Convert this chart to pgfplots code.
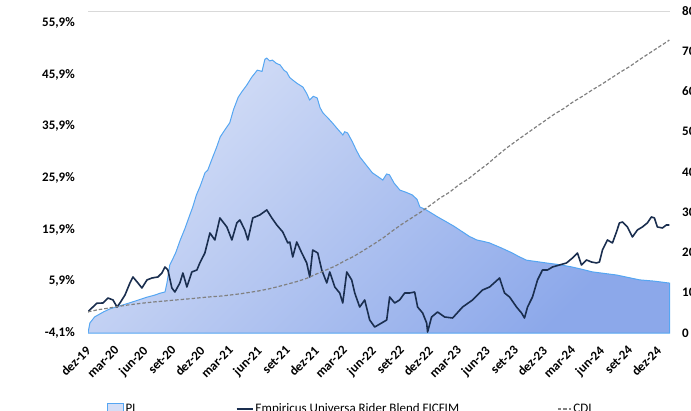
\documentclass[border=0pt]{standalone}
\usepackage{pgfplots}
\pgfplotsset{compat=1.18}
\usepackage{fontspec}
\setmainfont{Carlito}

\definecolor{plline}{HTML}{55A6F2}
\definecolor{pllight}{HTML}{D4DEF6}
\definecolor{pldark}{HTML}{8CA8EA}
\definecolor{fundnavy}{HTML}{1A2E4F}
\definecolor{cdigray}{HTML}{808080}
\definecolor{topgrid}{HTML}{D9D9D9}

\pgfplotsset{
  myaxis/.style={
    at={(88pt,77pt)}, anchor=south west,
    scale only axis, width=582pt, height=322pt,
    xmin=0, xmax=61.2,
    axis line style={draw=none},
    major tick length=0pt,
    tick label style={font=\bfseries\fontsize{13}{15}\selectfont, text=black},
  },
  shortline/.style={legend image code/.code={\draw[##1] (0pt,0pt) -- (16pt,0pt);}},
  shortdash/.style={legend image code/.code={\draw[##1] (0pt,0pt) -- (13pt,0pt);}},
  plbox/.style={legend image code/.code={\draw[draw=plline, fill=pllight] (0pt,-6pt) rectangle (16pt,6pt);}},
}

\begin{document}
\begin{tikzpicture}
\useasboundingbox (0,0) rectangle (691pt,410pt);
\clip (0,0) rectangle (691pt,410pt);

% PL area, right axis
\begin{axis}[myaxis,
  ymin=0, ymax=80,
  xtick=\empty,
  ytick={0,10,...,80},
  yticklabels={0,10,20,30,40,50,60,70,80},
  yticklabel pos=right,
  yticklabel style={anchor=west, inner sep=0pt, xshift=12pt},
]
\draw[topgrid, line width=0.8pt] (rel axis cs:0,1) -- (rel axis cs:1,1);
\addplot[draw=plline, line width=1pt, top color=pllight, bottom color=pldark, shading angle=45] coordinates {
(0,0) (0.2,2.5) (0.7,4.0) (1.6,5.2) (2.2,5.9) (3.0,6.5) (3.7,7.0) (4.4,7.5) (5.3,8.2) (6.2,8.9) (7.0,9.4) (7.6,9.9) (8.1,10.2)
(8.3,12.4) (8.6,16.9) (9.2,19.8) (9.7,23.1) (10.2,26.0) (10.7,29.3) (11.0,31.2) (11.4,34.3) (11.8,36.5) (12.3,39.8) (12.6,40.5)
(13.0,43.0) (13.5,46.0) (13.9,48.7) (14.4,50.5) (14.9,52.2) (15.3,55.5) (15.8,58.6) (16.2,60.0) (16.7,61.6) (17.2,63.5)
(17.8,65.3) (18.3,65.0) (18.6,68.0) (18.8,68.3) (19.1,67.6) (19.4,67.8) (19.8,67.0) (20.2,66.6) (20.6,65.3) (20.9,64.8)
(21.2,63.5) (21.5,62.9) (22.0,62.0) (22.6,61.1) (23.0,59.5) (23.3,57.9) (23.7,58.8) (24.1,58.4) (24.4,56.0) (24.7,54.7)
(25.2,53.5) (25.7,52.2) (26.2,50.8) (26.8,49.2) (27.0,50.0) (27.3,49.7) (27.8,47.5) (28.2,45.5) (28.6,43.7) (29.0,42.5)
(29.5,41.0) (29.9,39.8) (30.4,39.0) (31.0,38.0) (31.4,39.5) (31.7,39.3) (32.2,37.2) (32.8,35.5) (33.4,35.0) (34.1,34.3)
(34.6,33.2) (34.9,31.3) (35.4,30.8) (35.9,30.1) (36.8,28.8) (37.7,27.6) (38.5,26.5) (39.4,25.1) (40.1,24.0) (40.9,23.1)
(41.5,22.8) (42.2,22.4) (43.4,21.2) (44.6,19.9) (45.3,19.0) (46.1,18.1) (47.0,17.8) (48.2,17.4) (49.5,17.0) (50.9,16.4)
(52.0,15.8) (53.0,15.2) (54.3,14.8) (55.6,14.4) (56.8,13.8) (58.0,13.2) (59.5,12.9) (61.15,12.4)
} \closedcycle;
\end{axis}

% fund and CDI, left axis
\begin{axis}[myaxis,
  ymin=-4.1, ymax=58.2,
  ytick={-4.1,5.9,15.9,25.9,35.9,45.9,55.9},
  yticklabels={{-4,1\%},{5,9\%},{15,9\%},{25,9\%},{35,9\%},{45,9\%},{55,9\%}},
  yticklabel style={anchor=east, inner sep=0pt, xshift=-13pt},
  xtick={0,3,...,60},
  xticklabels={dez-19,mar-20,jun-20,set-20,dez-20,mar-21,jun-21,set-21,dez-21,mar-22,jun-22,set-22,dez-22,mar-23,jun-23,set-23,dez-23,mar-24,jun-24,set-24,dez-24},
  xticklabel style={xshift=-3pt, yshift=-12pt, rotate=45, anchor=north east, inner sep=0pt},
  legend columns=3,
  legend style={at={(0.0326,-0.236)}, anchor=west, draw=none, fill=none,
    font=\fontsize{13}{15}\selectfont, inner sep=0pt,
    /tikz/every even column/.append style={column sep=96pt}},
  legend cell align=left,
]
\addlegendimage{plbox}
\addlegendentry{PL}
\addplot[fundnavy, line width=1.6pt, line join=round, shortline] coordinates {
(0,0) (0.91,1.65) (1.58,1.71) (2.10,2.67) (2.63,2.29) (3.05,0.93) (3.36,1.71) (3.89,3.25) (4.41,5.58) (4.73,6.74)
(5.25,5.58) (5.67,4.61) (6.20,6.16) (6.72,6.54) (7.35,6.74) (7.77,7.51) (8.09,8.67) (8.40,8.09) (8.82,4.61) (9.14,3.83)
(9.66,5.58) (9.98,7.51) (10.40,4.80) (10.92,7.71) (11.45,8.09) (11.76,9.45) (12.29,11.38) (12.82,15.25) (13.34,13.90)
(13.87,18.16) (14.60,16.42) (15.13,13.90) (15.65,17.19) (15.97,17.77) (16.49,15.83) (16.81,13.90) (17.33,18.16)
(18.07,18.74) (18.80,19.71) (19.33,18.16) (19.85,16.80) (20.48,15.45) (21.01,13.32) (21.22,13.51) (21.53,10.61)
(21.95,13.51) (22.48,11.38) (23.00,9.45) (23.32,6.74) (23.63,11.96) (24.16,11.38) (24.58,8.09) (25.11,5.58) (25.42,7.71)
(25.95,4.80) (26.47,3.64) (26.79,1.71) (27.21,7.71) (27.73,6.16) (28.05,3.64) (28.57,0.93) (29.10,2.29) (29.62,-1.58)
(30.15,-2.94) (30.88,-2.16) (31.41,-1.58) (31.72,2.87) (32.25,1.71) (32.77,2.29) (33.30,3.64) (33.82,3.64) (34.35,3.83)
(34.66,0.93) (35.19,-0.23) (35.61,-2.16) (35.71,-3.91) (36.13,-1.00) (36.76,-0.04) (37.50,-1.00) (38.34,-1.20)
(39.39,0.93) (40.44,2.29) (41.49,4.22) (42.23,4.80) (43.28,6.54) (43.80,3.64) (44.33,2.87) (45.06,0.93) (45.59,-0.23)
(45.90,-1.20) (46.22,0.93) (46.74,2.87) (47.27,6.16) (47.79,8.09) (48.32,8.09) (48.84,8.67) (49.58,9.06) (50.32,9.45)
(50.95,10.42) (51.47,11.38) (51.89,9.06) (52.42,10.03) (52.94,9.64) (53.47,9.45) (53.78,9.64) (54.10,11.96) (54.62,13.90)
(55.15,13.32) (55.57,15.45) (55.88,17.19) (56.20,17.38) (56.72,16.42) (57.25,14.48) (57.77,15.83) (58.30,16.42)
(58.82,17.19) (59.24,18.35) (59.56,18.16) (59.87,16.42) (60.40,16.22) (60.82,16.80) (61.13,16.80)
};
\addlegendentry{Empiricus Universa Rider Blend FICFIM}
\addplot[cdigray, line width=1.2pt, dash pattern=on 3.5pt off 2pt, shortdash] coordinates {
(0,0) (1,0.38) (2,0.67) (3,0.98) (4,1.27) (5,1.51) (6,1.73) (7,1.92) (8,2.08) (9,2.25) (10,2.41) (11,2.57) (12,2.76)
(13,2.92) (14,3.05) (15,3.26) (16,3.48) (17,3.76) (18,4.06) (19,4.43) (20,4.88) (21,5.37) (22,5.87) (23,6.48) (24,7.30)
(25,8.06) (26,8.86) (27,9.87) (28,10.78) (29,11.90) (30,13.05) (31,14.25) (32,15.64) (33,16.94) (34,18.12) (35,19.31)
(36,20.62) (37,21.99) (38,23.12) (39,24.57) (40,25.73) (41,27.20) (42,28.58) (43,30.16) (44,31.67) (45,33.01) (46,34.32)
(47,35.62) (48,36.9) (49,38.2) (50,39.3) (51,40.6) (52,41.7) (53,42.9) (54,44.0) (55,45.2) (56,46.4) (57,47.5) (58,48.8)
(59,50.0) (60,51.2) (61,52.4) (61.13,52.6)
};
\addlegendentry{CDI}
\end{axis}
\end{tikzpicture}
\end{document}
